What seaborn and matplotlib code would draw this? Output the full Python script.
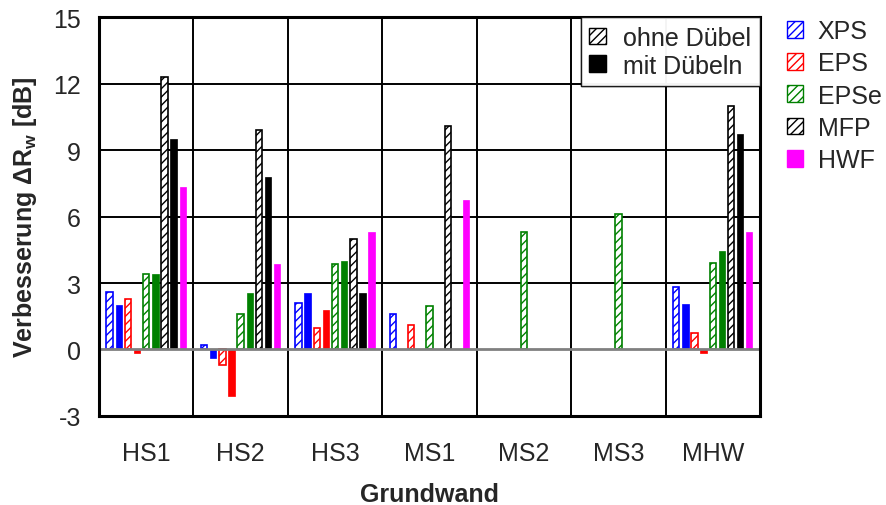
import numpy as np
import pandas as pd
import matplotlib
matplotlib.use("Agg")
import matplotlib.pyplot as plt
from matplotlib.patches import Patch
import seaborn as sns

groups = ["HS1", "HS2", "HS3", "MS1", "MS2", "MS3", "MHW"]
nan = np.nan
xps_ohne = [2.6, 0.2, 2.1, 1.6, nan, nan, 2.8]
xps_mit = [2.0, -0.4, 2.55, nan, nan, nan, 2.05]
eps_ohne = [2.3, -0.7, 0.95, 1.1, nan, nan, 0.75]
eps_mit = [-0.15, -2.1, 1.8, nan, nan, nan, -0.15]
epse_ohne = [3.4, 1.6, 3.85, 1.95, 5.3, 6.1, 3.9]
epse_mit = [3.4, 2.55, 4.0, nan, nan, nan, 4.45]
mfp_ohne = [12.3, 9.9, 5.0, 10.1, nan, nan, 11.0]
mfp_mit = [9.5, 7.8, 2.55, nan, nan, nan, 9.7]
hwf = [7.35, 3.85, 5.3, 6.75, nan, nan, 5.3]

series = ["XPS ohne", "XPS mit", "EPS ohne", "EPS mit", "EPSe ohne",
          "EPSe mit", "MFP ohne", "MFP mit", "HWF"]
values = [xps_ohne, xps_mit, eps_ohne, eps_mit, epse_ohne, epse_mit,
          mfp_ohne, mfp_mit, hwf]
colors = ["#0000ff", "#0000ff", "#ff0000", "#ff0000", "#008000", "#008000",
          "#000000", "#000000", "#ff00ff"]
hatched = [True, False, True, False, True, False, True, False, False]

rows = []
for s, vals in zip(series, values):
    for g, v in zip(groups, vals):
        rows.append({"Grundwand": g, "Serie": s, "Wert": v})
df = pd.DataFrame(rows).dropna()

sns.set_style("white")
plt.rcParams["font.family"] = ["Liberation Sans", "DejaVu Sans"]
plt.rcParams["mathtext.fontset"] = "custom"
plt.rcParams["mathtext.rm"] = "Liberation Sans:bold"
plt.rcParams["mathtext.bf"] = "Liberation Sans:bold"
plt.rcParams["hatch.linewidth"] = 1.0
plt.rcParams["axes.unicode_minus"] = False

fig = plt.figure(figsize=(8.87, 5.06), dpi=100)
ax = fig.add_axes([0.1116, 0.1759, 0.7452, 0.7885])

sns.barplot(data=df, x="Grundwand", y="Wert", hue="Serie", order=groups,
            hue_order=series, width=0.87, gap=0.3, ax=ax, legend=False,
            err_kws={"linewidth": 0}, zorder=3)

for cont, c, h in zip(ax.containers, colors, hatched):
    for p in cont:
        if h:
            p.set_facecolor("white")
            p.set_edgecolor(c)
            p.set_hatch("////")
            p.set_linewidth(1.2)
        else:
            p.set_facecolor(c)
            p.set_edgecolor(c)
            p.set_linewidth(0.5)

ax.set_xlim(-0.5, 6.5)
ax.set_ylim(-3, 15)
ax.set_yticks(np.arange(-3, 16, 3))
for yv in [3, 6, 9, 12]:
    ax.axhline(yv, color="black", lw=1.4, zorder=1)
ax.axhline(0, color="#808080", lw=2, zorder=4)
for xv in np.arange(0.5, 6.5, 1):
    ax.axvline(xv, color="black", lw=1.4, zorder=1)

for sp in ax.spines.values():
    sp.set_visible(True)
    sp.set_color("black")
    sp.set_linewidth(2.2)
    sp.set_zorder(5)

ax.tick_params(axis="both", length=0)
ax.tick_params(axis="x", pad=18, labelsize=18)
ax.tick_params(axis="y", pad=13, labelsize=18)
ax.set_xlabel("Grundwand", fontsize=18, fontweight="bold", labelpad=12)
ax.set_ylabel(r"Verbesserung $\Delta$R$_\mathrm{w}$ [dB]", fontsize=18,
              fontweight="bold", labelpad=10)

h1 = [Patch(facecolor="white", edgecolor="black", hatch="////", lw=1.0, label="ohne Dübel"),
      Patch(facecolor="black", edgecolor="black", label="mit Dübeln")]
leg1 = ax.legend(handles=h1, loc="upper right", bbox_to_anchor=(1.0, 1.0),
                 frameon=True, fancybox=False, fontsize=18, handlelength=0.65,
                 handleheight=0.65, handletextpad=0.7, borderpad=0.35,
                 labelspacing=0.15, borderaxespad=0)
leg1.get_frame().set_edgecolor("black")
leg1.get_frame().set_linewidth(1.0)
leg1.set_zorder(6)
ax.add_artist(leg1)

h2 = [Patch(facecolor="white", edgecolor="#0000ff", hatch="////", lw=1.0, label="XPS"),
      Patch(facecolor="white", edgecolor="#ff0000", hatch="////", lw=1.0, label="EPS"),
      Patch(facecolor="white", edgecolor="#008000", hatch="////", lw=1.0, label="EPSe"),
      Patch(facecolor="white", edgecolor="#000000", hatch="////", lw=1.0, label="MFP"),
      Patch(facecolor="#ff00ff", edgecolor="#ff00ff", label="HWF")]
fig.legend(handles=h2, loc="upper left", bbox_to_anchor=(0.867, 0.995),
           frameon=False, fontsize=18, handlelength=0.65, handleheight=0.65,
           handletextpad=0.6, labelspacing=0.33, borderpad=0.2)

fig.savefig("out.png", dpi=100)
